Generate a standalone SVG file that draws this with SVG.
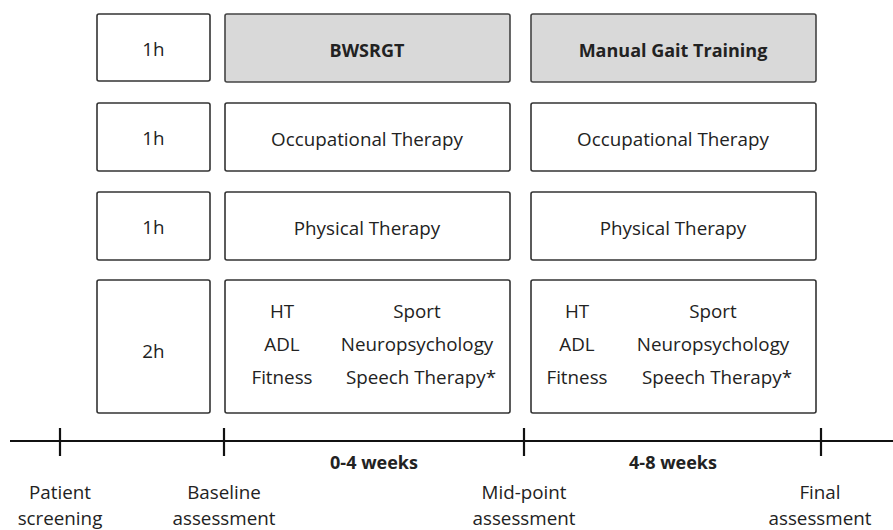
<svg xmlns="http://www.w3.org/2000/svg" width="893" height="530" viewBox="0 0 893 530">
<style>
.b{fill:#fff;stroke:#333;stroke-width:1.6}
.g{fill:#d9d9d9;stroke:#444;stroke-width:1.6}
text{font-family:"Open Sans","Liberation Sans",sans-serif;font-size:18.8px;fill:#222;text-anchor:middle}
.bd{font-weight:bold;font-size:18px}
.ax{stroke:#111;stroke-width:2.2;fill:none}
</style>
<rect width="893" height="530" fill="#fff"/>
<g id="row1">
<rect class="b" x="97" y="14" width="113" height="67" rx="2"/><text x="153.5" y="56">1h</text>
</g>
<g id="bwsrgt"><rect class="g" x="225" y="14" width="285" height="68" rx="2"/><text class="bd" x="367" y="57">BWSRGT</text></g>
<g id="manual"><rect class="g" x="531" y="14" width="285" height="68" rx="2"/><text class="bd" x="673" y="57">Manual Gait Training</text></g>
<g id="row2"><rect class="b" x="97" y="103" width="113" height="68" rx="2"/><text x="153.5" y="145">1h</text></g>
<g id="ot1"><rect class="b" x="225" y="103" width="285" height="68" rx="2"/><text x="367" y="146">Occupational Therapy</text></g>
<g id="ot2"><rect class="b" x="531" y="103" width="285" height="68" rx="2"/><text x="673" y="146">Occupational Therapy</text></g>
<g id="row3"><rect class="b" x="97" y="192" width="113" height="68" rx="2"/><text x="153.5" y="234">1h</text></g>
<g id="pt1"><rect class="b" x="225" y="192" width="285" height="68" rx="2"/><text x="367" y="235">Physical Therapy</text></g>
<g id="pt2"><rect class="b" x="531" y="192" width="285" height="68" rx="2"/><text x="673" y="235">Physical Therapy</text></g>
<g id="row4"><rect class="b" x="97" y="280" width="113" height="133" rx="2"/><text x="153.5" y="358">2h</text></g>
<g id="mix1"><rect class="b" x="225" y="280" width="285" height="133" rx="2"/>
<text x="282" y="318">HT</text><text x="282" y="351">ADL</text><text x="282" y="384">Fitness</text>
<text x="417" y="318">Sport</text><text x="417" y="351">Neuropsychology</text><text x="421" y="384">Speech Therapy*</text></g>
<g id="mix2"><rect class="b" x="531" y="280" width="285" height="133" rx="2"/>
<text x="577" y="318">HT</text><text x="577" y="351">ADL</text><text x="577" y="384">Fitness</text>
<text x="713" y="318">Sport</text><text x="713" y="351">Neuropsychology</text><text x="717" y="384">Speech Therapy*</text></g>
<g id="timeline">
<path class="ax" d="M10 441H893M60 428V456M224 428V456M524 428V456M821 428V456"/>
</g>
<g id="labels">
<text class="bd" x="374" y="469">0-4 weeks</text>
<text class="bd" x="673" y="469">4-8 weeks</text>
<text x="60" y="499">Patient</text><text x="60" y="525">screening</text>
<text x="224" y="499">Baseline</text><text x="224" y="525">assessment</text>
<text x="524" y="499">Mid-point</text><text x="524" y="525">assessment</text>
<text x="820" y="499">Final</text><text x="820" y="525">assessment</text>
</g>
</svg>
